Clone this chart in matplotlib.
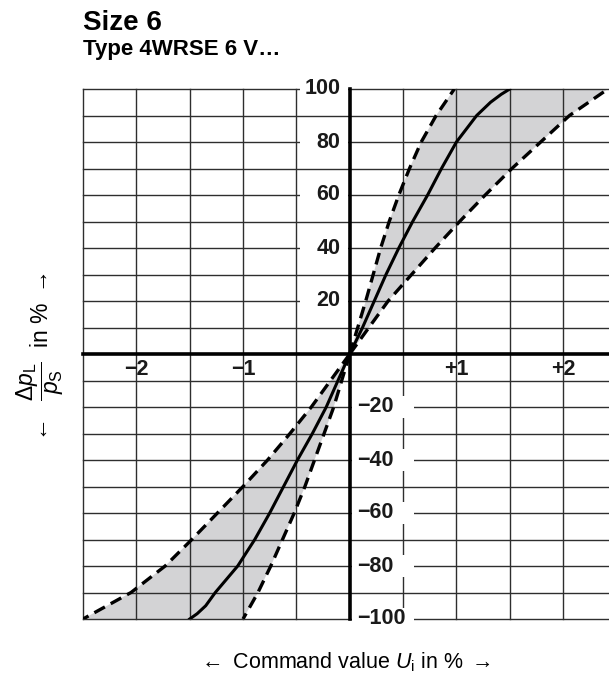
import numpy as np
import matplotlib.pyplot as plt
from matplotlib.patches import Rectangle

plt.rcParams['font.family'] = ['Liberation Sans', 'DejaVu Sans']
plt.rcParams['mathtext.fontset'] = 'custom'
plt.rcParams['mathtext.rm'] = 'Liberation Sans'
plt.rcParams['mathtext.it'] = 'Liberation Sans:italic'
plt.rcParams['mathtext.bf'] = 'Liberation Sans:bold'

# achsen / beschriftung
x_ticks = [-2, -1, 1, 2]
x_labels = ['\u22122', '\u22121', '+1', '+2']
y_ticks_pos = [20, 40, 60, 80, 100]
y_ticks_neg = [-20, -40, -60, -80, -100]

# kurven oben rechts
y_up = [0, 10, 20, 30, 40, 50, 60, 70, 80, 90, 100]
steep_up_x = [0, 0.075, 0.15, 0.22, 0.29, 0.37, 0.46, 0.56, 0.67, 0.81, 0.98]
shallow_up_x = [0, 0.18, 0.36, 0.58, 0.80, 1.03, 1.27, 1.52, 1.79, 2.06, 2.42]
y_solid_up = [0, 10, 20, 30, 40, 50, 60, 70, 80, 90, 95, 98, 100]
solid_up_x = [0, 0.12, 0.23, 0.34, 0.46, 0.59, 0.73, 0.86, 1.0, 1.19, 1.32, 1.42, 1.5]

# kurven unten links
y_dn = [0, -10, -20, -30, -40, -50, -60, -70, -80, -90, -100]
steep_dn_x = [0, -0.075, -0.15, -0.24, -0.33, -0.42, -0.52, -0.63, -0.74, -0.86, -1.0]
shallow_dn_x = [0, -0.18, -0.36, -0.56, -0.77, -1.0, -1.24, -1.48, -1.73, -2.05, -2.5]
y_solid_dn = [0, -10, -20, -30, -40, -50, -60, -70, -80, -90, -95, -98, -100]
solid_dn_x = [0, -0.11, -0.22, -0.35, -0.49, -0.62, -0.75, -0.89, -1.05, -1.26, -1.35, -1.43, -1.5]

fig = plt.figure(figsize=(6.09, 6.82), dpi=100)
ax = fig.add_axes([83/609, 63/682, 526/609, 530/682])
ax.set_xlim(-2.5, 2.43)
ax.set_ylim(-100, 100)
ax.axis('off')

grey = '#d3d3d5'
gridc = '#2e2e2e'

#grauer bereich
ax.fill(steep_up_x + shallow_up_x[::-1], y_up + y_up[::-1], color=grey, lw=0, zorder=1)
ax.fill(steep_dn_x + shallow_dn_x[::-1], y_dn + y_dn[::-1], color=grey, lw=0, zorder=1)

#gitter
for xv in np.arange(-2.5, 2.5, 0.5):
    if xv != 0:
        ax.axvline(xv, color=gridc, lw=1.0, zorder=2, clip_on=False)
for yv in range(-100, 101, 10):
    if yv != 0:
        ax.axhline(yv, color=gridc, lw=1.0, zorder=2, clip_on=False)
ax.axvline(0, color='black', lw=2.6, zorder=3, clip_on=False)
ax.axhline(0, color='black', lw=2.6, zorder=3, clip_on=False)

#kurven
dash = (3.6, 2.0)
ax.plot(steep_up_x, y_up, color='black', lw=2.4, dashes=dash, zorder=5)
ax.plot(shallow_up_x, y_up, color='black', lw=2.4, dashes=dash, zorder=5)
ax.plot(solid_up_x, y_solid_up, color='black', lw=2.2, zorder=5)
ax.plot(steep_dn_x, y_dn, color='black', lw=2.4, dashes=dash, zorder=5)
ax.plot(shallow_dn_x, y_dn, color='black', lw=2.4, dashes=dash, zorder=5)
ax.plot(solid_dn_x, y_solid_dn, color='black', lw=2.2, zorder=5)

#beschriftung y
for v in y_ticks_pos:
    ax.add_patch(Rectangle((-0.47, v - 4), 0.45, 8, fc='white', ec='none', zorder=4, clip_on=False))
    ax.text(-0.09, v, str(v), ha='right', va='center', fontsize=15.5,
            fontweight='bold', color='#1a1a1a', zorder=6)
for v in y_ticks_neg:
    ax.add_patch(Rectangle((0.02, v - 4), 0.58, 8, fc='white', ec='none', zorder=4, clip_on=False))
    ax.text(0.07, v, '\u2212' + str(-v), ha='left', va='center', fontsize=15.5,
            fontweight='bold', color='#1a1a1a', zorder=6)

#beschriftung x
for xv, lab in zip(x_ticks, x_labels):
    ax.text(xv, -6, lab, ha='center', va='center', fontsize=15.5,
            fontweight='bold', color='#1a1a1a', zorder=6)

#titel
fig.text(83/609, 1 - 30/682, 'Size 6', fontsize=20, fontweight='bold', va='baseline')
fig.text(83/609, 1 - 55/682, 'Type 4WRSE 6 V\u2026', fontsize=16, fontweight='bold', va='baseline')

#achsentitel
fig.text(40/609, 1 - 358/682,
         r'$\leftarrow$  $\dfrac{\Delta p_\mathrm{L}}{p_\mathrm{S}}$  in % $\rightarrow$',
         rotation=90, ha='center', va='center', fontsize=16.5)
fig.text(345/609, 1 - 662/682, r'$\leftarrow$ Command value $U_\mathrm{i}$ in % $\rightarrow$',
         ha='center', va='center', fontsize=15.5)

fig.savefig('out.png', dpi=100)
